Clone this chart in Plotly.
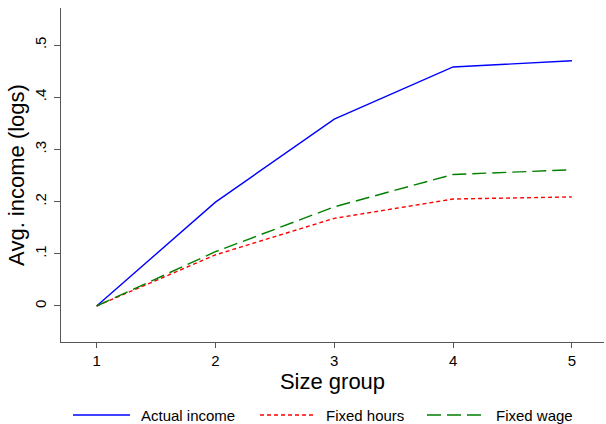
import plotly.graph_objects as go

size_group = [1, 2, 3, 4, 5]
actual_income = [0.0, 0.199, 0.358, 0.458, 0.470]
fixed_hours = [0.0, 0.098, 0.168, 0.205, 0.209]
fixed_wage = [0.0, 0.104, 0.190, 0.252, 0.261]
y_ticks = [0, 0.1, 0.2, 0.3, 0.4, 0.5]
y_tick_labels = ["0", ".1", ".2", ".3", ".4", ".5"]
series_names = ["Actual income", "Fixed hours", "Fixed wage"]

font = "Liberation Sans, Arial, sans-serif"
styles = [
    dict(color="#0000ff", width=1.4, dash="solid"),
    dict(color="#ff0000", width=1.4, dash="4px,3px"),
    dict(color="#007f00", width=1.4, dash="14px,6px"),
]

fig = go.Figure()
for name, vals, st in zip(series_names, [actual_income, fixed_hours, fixed_wage], styles):
    fig.add_trace(go.Scatter(x=size_group, y=vals, mode="lines", name=name,
                             line=st, showlegend=False))

# manual legend (keys + labels) below the plot, in paper coordinates
legend_y = -0.2186
key_x = [(0.0221, 0.1271), (0.3665, 0.4678), (0.6740, 0.7808)]
for (x0, x1), name, st in zip(key_x, series_names, styles):
    fig.add_shape(type="line", xref="paper", yref="paper", x0=x0, x1=x1,
                  y0=legend_y, y1=legend_y, line=st)
    fig.add_annotation(xref="paper", yref="paper", x=x1 + 0.0165, y=legend_y,
                       xanchor="left", yanchor="middle", text=name, showarrow=False,
                       font=dict(size=15, family=font, color="#000000"))

fig.update_layout(
    width=606, height=424,
    margin=dict(l=61, r=2, t=8, b=82, autoexpand=False),
    paper_bgcolor="white", plot_bgcolor="white",
    font=dict(family=font, color="#000000", size=15),
    showlegend=False,
    xaxis=dict(range=[0.70, 5.27], tickvals=size_group, ticktext=[str(v) for v in size_group],
               showgrid=False, zeroline=False, showline=True, linecolor="#555555", linewidth=1,
               ticks="outside", ticklen=5, tickcolor="#555555",
               tickfont=dict(size=15),
               title=dict(text="Size group", font=dict(size=22), standoff=1)),
    yaxis=dict(range=[-0.069, 0.571], tickvals=y_ticks, ticktext=y_tick_labels,
               showgrid=False, zeroline=False, showline=True, linecolor="#555555", linewidth=1,
               ticks="outside", ticklen=6, tickcolor="#555555", tickangle=-90,
               ticklabelstandoff=2,
               tickfont=dict(size=15),
               title=dict(text="Avg. income (logs)", font=dict(size=22), standoff=1)),
)

fig.write_html("out.html")
